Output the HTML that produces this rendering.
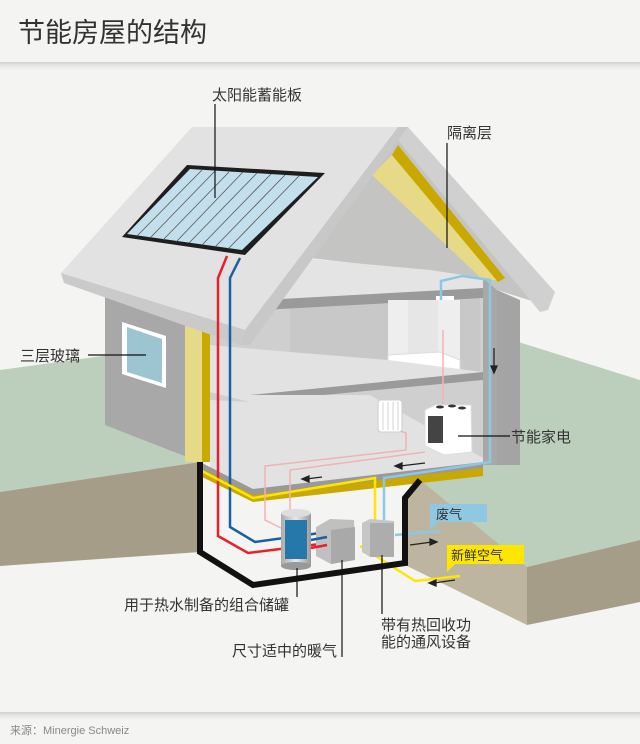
<!DOCTYPE html>
<html><head><meta charset="utf-8"><style>
html,body{margin:0;padding:0;background:#f4f4f2;}
body{width:640px;height:744px;overflow:hidden;position:relative;font-family:"Liberation Sans","Noto Sans CJK SC",sans-serif;}
svg{position:absolute;left:0;top:0;}
text{font-family:"Liberation Sans","Noto Sans CJK SC",sans-serif;fill:#333;}
</style></head><body>
<svg width="640" height="744" viewBox="0 0 640 744">
<defs>
<linearGradient id="sh" x1="0" y1="0" x2="0" y2="1"><stop offset="0" stop-color="#d0d0ce"/><stop offset="1" stop-color="#f4f4f2" stop-opacity="0"/></linearGradient>
<linearGradient id="tank" x1="0" y1="0" x2="1" y2="0"><stop offset="0" stop-color="#aaa"/><stop offset=".5" stop-color="#e8e8e8"/><stop offset="1" stop-color="#999"/></linearGradient>
</defs>
<rect width="640" height="744" fill="#f4f4f2"/>
<rect x="0" y="62" width="640" height="10" fill="url(#sh)"/>
<rect x="0" y="712" width="640" height="10" fill="url(#sh)"/>
<text x="18" y="42" font-size="27">节能房屋的结构</text>
<text x="10" y="734" font-size="11" fill="#888" style="fill:#888">来源：Minergie Schweiz</text>

<!-- ground -->
<polygon points="0,370 110,355 110,425 200,462 0,492" fill="#bccfbc"/>
<polygon points="480,330 640,380 640,540 527,567 400,480 480,470" fill="#bccfbc"/>
<polygon points="0,492 200,462 200,552 0,566" fill="#a59d88"/>
<polygon points="405,498 420,480 527,567 527,625 405,565" fill="#bdb5a0"/>
<polygon points="527,567 640,540 640,602 527,625" fill="#a59d88"/>
<polygon points="200,462 253,497 483,470 420,480 405,498 405,565 253,587 200,552" fill="#f4f4f2"/>

<!-- left wall -->
<polygon points="105,290 200,318 200,462 105,425" fill="#a8a8a8"/>
<polygon points="122,322 166,336 166,388 122,374" fill="#fff"/>
<polygon points="127,327 162,339 162,383 127,372" fill="#9cc4d1"/>
<rect x="185" y="312" width="18" height="150" fill="#e6d987"/>
<rect x="202" y="318" width="8" height="144" fill="#c9a800"/>

<!-- interior walls -->
<polygon points="210,290 483,278 497,280 497,465 210,465" fill="#cfcfcf"/>
<polygon points="290,300 480,295 480,380 290,385" fill="#c8c8c8"/>
<rect x="483" y="280" width="14" height="185" fill="#a8a8a8"/>
<polygon points="497,290 520,300 520,465 497,465" fill="#a4a4a4"/>

<!-- gable -->
<polygon points="398,140 545,305 497,290 483,278 310,258" fill="#c4c4c2"/>
<polygon points="372,175 392,155 500,280 483,280" fill="#e6d987"/>
<polygon points="392,155 398,145 505,278 498,282" fill="#c9a800"/>
<polygon points="398,140 408,140 550,300 545,308" fill="#999"/>
<polygon points="398,127 408,127 555,292 548,310 540,312 398,140" fill="#d0d0d0"/>

<!-- attic floor slab -->
<polygon points="262,285 300,258 430,270 483,278 483,296 290,305 262,300" fill="#e4e4e4"/>
<polygon points="262,300 483,288 483,298 262,310" fill="#9a9a9a"/>
<!-- shower -->
<rect x="388" y="300" width="72" height="62" fill="#eeeeee"/>
<rect x="408" y="300" width="30" height="60" fill="#e6e6e6"/>
<polygon points="388,355 440,352 460,360 460,370 402,372 388,366" fill="#fff" stroke="#ddd" stroke-width="1"/>
<rect x="436" y="296" width="18" height="4" fill="#fff"/>
<!-- mid floor slab -->
<polygon points="210,345 290,352 388,360 483,372 483,380 250,402 210,392" fill="#e2e2e2"/>
<polygon points="250,395 483,372 483,380 250,402" fill="#9a9a9a"/>
<!-- lower floor -->
<polygon points="210,400 250,402 250,395 370,395 483,458 483,465 253,492 210,472" fill="#e2e2e2"/>
<polygon points="200,462 253,489 483,462 483,470 253,497 200,470" fill="#999"/>
<polygon points="200,468 253,495 483,468 483,476 253,502 200,476" fill="#c9a800"/>

<!-- roof left plane -->
<polygon points="192,127 398,127 245,330 61,273" fill="#e2e2e2"/>
<polygon points="61,273 245,330 240,345 64,283" fill="#cacaca"/>
<polygon points="398,127 408,127 250,345 240,345 245,330" fill="#c8c8c8"/>
<!-- solar panel -->
<polygon points="187,165 325,173 245,255 122,237" fill="#1e1e1e"/>
<polygon points="190,169 318,177 242,250 127,234" fill="#c2dfeb"/>
<g stroke="#555" stroke-width="0.8">
<line x1="202" y1="170" x2="137" y2="236"/><line x1="215" y1="171" x2="150" y2="238"/>
<line x1="229" y1="172" x2="163" y2="240"/><line x1="243" y1="172" x2="176" y2="242"/>
<line x1="257" y1="173" x2="189" y2="243"/><line x1="271" y1="174" x2="202" y2="245"/>
<line x1="285" y1="175" x2="215" y2="247"/><line x1="299" y1="176" x2="228" y2="249"/>
</g>

<!-- pipes -->
<g fill="none" stroke-width="2.5">
<polyline points="227,256 218,278 218,536 248,553 320,544" stroke="#e8202a"/>
<polyline points="240,258 230,278 230,527 255,542 320,533" stroke="#1a5fa0"/>
<polyline points="441,300 441,281 462,276 490,280 490,462 425,472 384,478 384,520" stroke="#8ec7e3"/>
<polyline points="200,470 253,498 375,478 375,520" stroke="#ffe600"/>
<polyline points="360,546 415,581 460,576" stroke="#ffe600"/>
<polyline points="395,535 440,531" stroke="#8ec7e3"/>
</g>
<g fill="none" stroke="#f0b3b3" stroke-width="1.5">
<polyline points="443,330 443,408"/>
<polyline points="400,431 406,433 406,450 265,466 265,520 285,530"/>
<polyline points="425,452 290,470 290,515"/>
</g>
<!-- arrows -->
<g stroke="#222" stroke-width="1.3" fill="#222">
<line x1="322" y1="477" x2="306" y2="479"/><polygon points="302,479 309,476 309,482"/>
<line x1="425" y1="463" x2="400" y2="466"/><polygon points="395,466 402,463 402,469"/>
<line x1="494" y1="348" x2="494" y2="368"/><polygon points="494,373 491,366 497,366"/>
<line x1="410" y1="545" x2="432" y2="542"/><polygon points="437,542 430,539 430,545"/>
<line x1="455" y1="580" x2="434" y2="583"/><polygon points="429,583 436,580 436,586"/>
</g>

<!-- basement outline -->
<polyline points="200,462 200,552 253,585 405,563 405,498 420,480" fill="none" stroke="#111" stroke-width="6"/>

<!-- tank -->
<rect x="281" y="513" width="30" height="53" fill="url(#tank)"/>
<ellipse cx="296" cy="566" rx="15" ry="4" fill="#999"/>
<ellipse cx="296" cy="513" rx="15" ry="4" fill="#ddd"/>
<rect x="285" y="520" width="22" height="39" fill="#2677aa"/>
<!-- boxes -->
<polygon points="316,527 330,519 354,520 355,560 331,564 316,556" fill="#c0c0c0"/>
<polygon points="331,530 355,527 355,560 331,564" fill="#a9a9a9"/>
<polygon points="362,523 370,519 394,521 394,556 370,557 362,552" fill="#c6c6c6"/>
<rect x="370" y="523" width="24" height="34" fill="#adadad"/>
<line x1="311" y1="540" x2="327" y2="537" stroke="#1a5fa0" stroke-width="2.5"/>
<line x1="311" y1="548" x2="327" y2="545" stroke="#e8202a" stroke-width="2.5"/>

<!-- appliances -->
<rect x="378" y="400" width="24" height="32" rx="3" fill="#fff" stroke="#ccc"/>
<g stroke="#ccc" stroke-width="0.8"><line x1="383" y1="402" x2="383" y2="430"/><line x1="388" y1="402" x2="388" y2="430"/><line x1="393" y1="402" x2="393" y2="430"/><line x1="398" y1="402" x2="398" y2="430"/></g>
<polygon points="425,410 435,405 471,405 472,452 444,455 425,446" fill="#fff" stroke="#ddd"/>
<rect x="428" y="416" width="15" height="27" fill="#444"/>
<ellipse cx="440" cy="407" rx="4" ry="1.5" fill="#333"/><ellipse cx="452" cy="406" rx="4" ry="1.5" fill="#333"/><ellipse cx="462" cy="408" rx="4" ry="1.5" fill="#333"/>

<!-- tag boxes -->
<rect x="430" y="504" width="57" height="18" fill="#8fc8e0"/>
<polygon points="430,520 440,520 430,530" fill="#8fc8e0"/>
<text x="436" y="519" font-size="13">废气</text>
<rect x="447" y="545" width="77" height="19" fill="#ffe600"/>
<polygon points="447,562 457,562 447,572" fill="#ffe600"/>
<text x="451" y="560" font-size="13">新鲜空气</text>

<!-- leader lines -->
<g stroke="#111" stroke-width="1.2">
<line x1="215" y1="104" x2="215" y2="198"/>
<line x1="447" y1="143" x2="447" y2="248"/>
<line x1="88" y1="355" x2="146" y2="355"/>
<line x1="458" y1="436" x2="510" y2="436"/>
<line x1="297" y1="568" x2="297" y2="597"/>
<line x1="342" y1="560" x2="342" y2="657"/>
<line x1="382" y1="555" x2="382" y2="614"/>
</g>
<g font-size="15">
<text x="212" y="100">太阳能蓄能板</text>
<text x="447" y="138">隔离层</text>
<text x="20" y="361">三层玻璃</text>
<text x="511" y="442">节能家电</text>
<text x="124" y="610">用于热水制备的组合储罐</text>
<text x="232" y="656">尺寸适中的暖气</text>
<text x="381" y="630">带有热回收功</text>
<text x="381" y="647">能的通风设备</text>
</g>
</svg>
</body></html>
